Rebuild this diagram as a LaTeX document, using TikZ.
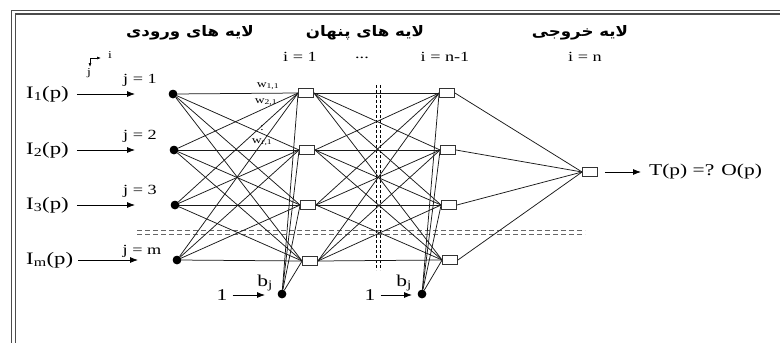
\documentclass[tikz,border=0pt]{standalone}
\usepackage{fontspec}
\setmainfont{Liberation Serif}[FakeStretch=1.3]
\newfontfamily\farsi[Script=Arabic,FakeStretch=1.15]{DejaVu Sans}
\TeXXeTstate=1
\usetikzlibrary{arrows.meta}
\tikzset{
  indot/.style={circle,fill=black,inner sep=0pt,minimum size=8.5pt},
  nbox/.style={draw=black!80,fill=white,line width=0.8pt,inner sep=0pt,minimum width=15pt,minimum height=9pt},
  conn/.style={draw=black!90,line width=0.75pt},
  arr/.style={draw=black,line width=0.8pt,-{Latex[length=8pt,width=6pt]}},
  lbl/.style={font=\fontsize{17.5}{19}\selectfont,inner sep=0pt},
  blbl/.style={font=\fontsize{16.5}{18}\selectfont,inner sep=0pt},
  jlbl/.style={font=\fontsize{14}{16}\selectfont,inner sep=0pt},
  wlbl/.style={font=\fontsize{10.5}{12}\selectfont,inner sep=0pt},
  hdr/.style={font=\fontsize{14.5}{16}\selectfont\farsi\bfseries,inner sep=0pt},
  frame/.style={draw=black!70,line width=1.3pt}
}
\begin{document}
\begin{tikzpicture}[x=1pt,y=-1pt]
\useasboundingbox (0,0) rectangle (780,343);
% frame
\draw[frame] (11.5,343) -- (11.5,10.5) -- (780,10.5);
\draw[frame] (15.5,343) -- (15.5,14) -- (780,14);
% headers
\node[hdr] (h_in) at (190,33) {\beginR لایه های ورودی\endR};
\node[hdr] (h_hid) at (365,33) {\beginR لایه های پنهان\endR};
\node[hdr] (h_out) at (580,33) {\beginR لایه خروجی\endR};
\node[jlbl] (i1) at (300,57) {i = 1};
\node[jlbl] (idots) at (362,58) {...};
\node[jlbl] (in1) at (445,57) {i = n-1};
\node[jlbl] (in) at (585,57) {i = n};
% axis glyph
\coordinate (ax) at (90,58);
\coordinate (axr) at (101,58);
\coordinate (axd) at (90,67);
\draw[line width=0.6pt,-{Latex[length=4pt,width=3pt]}] (ax) -- (axr);
\draw[line width=0.6pt,-{Latex[length=4pt,width=3pt]}] (ax) -- (axd);
\node[wlbl] (axi) at (110,55) {i};
\node[wlbl] (axj) at (89,73) {j};
% dashed guides
\draw[black!60,line width=0.8pt,dash pattern=on 5pt off 3pt] (137,230) -- (585,230);
\draw[black!60,line width=0.8pt,dash pattern=on 5pt off 3pt] (137,234) -- (585,234);
\draw[black,line width=0.8pt,dash pattern=on 3pt off 2pt] (376,85) -- (376,270);
\draw[black,line width=0.8pt,dash pattern=on 3pt off 2pt] (380,85) -- (380,270);
% nodes
\node[indot] (x1) at (173,94) {};
\node[indot] (x2) at (174,150) {};
\node[indot] (x3) at (175,205) {};
\node[indot] (x4) at (177,260) {};
\node[indot] (b1) at (282,294) {};
\node[indot] (b2) at (422,294) {};
\node[nbox] (a1) at (306,93) {};
\node[nbox] (a2) at (307,150) {};
\node[nbox] (a3) at (308,205) {};
\node[nbox] (a4) at (310,261) {};
\node[nbox] (c1) at (447,93) {};
\node[nbox] (c2) at (448,150) {};
\node[nbox] (c3) at (449,205) {};
\node[nbox] (c4) at (450,260) {};
\node[nbox] (o) at (590,172) {};
% connections
\foreach \s in {x1,x2,x3,x4,b1} {
  \foreach \t in {a1,a2,a3,a4} { \draw[conn] (\s) -- (\t.west); }
}
\foreach \s in {a1,a2,a3,a4} {
  \foreach \t in {c1,c2,c3,c4} { \draw[conn] (\s.east) -- (\t.west); }
}
\foreach \t in {c1,c2,c3,c4} { \draw[conn] (b2) -- (\t.west); }
\foreach \s in {c1,c2,c3,c4} { \draw[conn] (\s.east) -- (o.west); }
% redraw boxes and dots on top
\foreach \p in {{306,93},{307,150},{308,205},{310,261},{447,93},{448,150},{449,205},{450,260},{590,172}} {
  \node[nbox] at (\p) {};
}
\foreach \p in {{173,94},{174,150},{175,205},{177,260},{282,294},{422,294}} {
  \node[indot] at (\p) {};
}
% weight labels
\node[wlbl] (w11) at (268,86) {w\textsubscript{1,1}};
\node[wlbl] (w21) at (266,102) {w\textsubscript{2,1}};
\node[wlbl] (wd) at (262,128) {:};
\node[wlbl] (wr1) at (262,142) {w\textsubscript{r,1}};
% input labels and arrows
\node[lbl,anchor=west] (L1) at (26,94) {I\textsubscript{1}(p)};
\node[lbl,anchor=west] (L2) at (26,150) {I\textsubscript{2}(p)};
\node[lbl,anchor=west] (L3) at (26,205) {I\textsubscript{3}(p)};
\node[lbl,anchor=west] (L4) at (26,260) {I\textsubscript{m}(p)};
\coordinate (e1) at (135,94);
\coordinate (e2) at (135,150);
\coordinate (e3) at (135,205);
\coordinate (e4) at (138,260);
\draw[arr] (L1.east) ++(8,0) -- (e1);
\draw[arr] (L2.east) ++(8,0) -- (e2);
\draw[arr] (L3.east) ++(8,0) -- (e3);
\draw[arr] (L4.east) ++(5,0) -- (e4);
\node[jlbl] (j1) at (140,80) {j = 1};
\node[jlbl] (j2) at (140,136) {j = 2};
\node[jlbl] (j3) at (140,191) {j = 3};
\node[jlbl] (j4) at (142,251) {j = m};
% bias labels
\node[blbl] (bj1) at (265,283) {b\textsubscript{j}};
\node[blbl] (one1) at (222,295) {1};
\coordinate (be1) at (265,295);
\draw[arr] (one1.east) ++(5,0) -- (be1);
\node[blbl] (bj2) at (404,283) {b\textsubscript{j}};
\node[blbl] (one2) at (370,295) {1};
\coordinate (be2) at (412,295);
\draw[arr] (one2.east) ++(5,0) -- (be2);
% output
\coordinate (oe) at (641,172);
\draw[arr] (o.east) ++(7,0) -- (oe);
\node[blbl,anchor=west] (T) at (649,172) {T(p) =? O(p)};
\end{tikzpicture}
\end{document}
